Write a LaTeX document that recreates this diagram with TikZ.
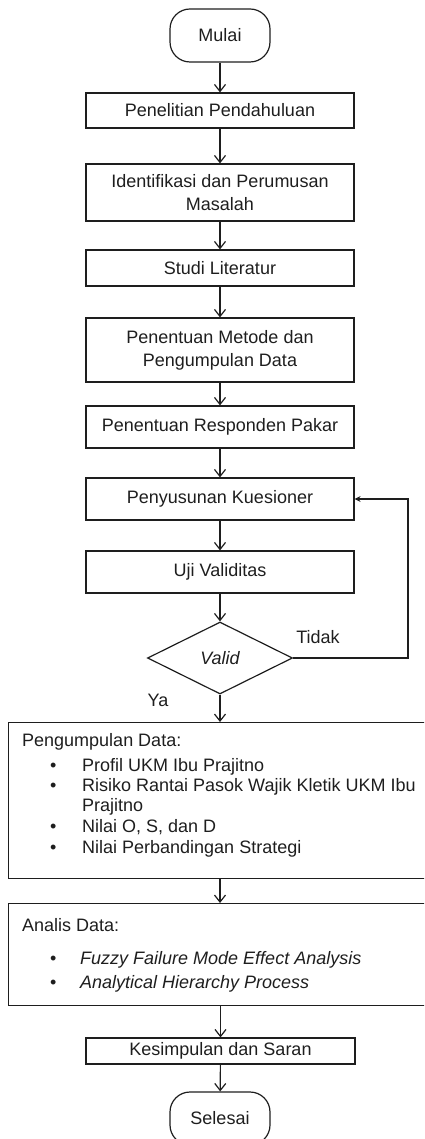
\documentclass[tikz,border=0pt]{standalone}
\usepackage{fontspec}
\setmainfont{Liberation Sans}
\usepackage{tikz}
\usetikzlibrary{arrows.meta,shapes.geometric}
\definecolor{ink}{HTML}{1E1E1E}
\tikzset{box/.style={draw=ink,line width=1.2pt,rectangle,minimum width=268pt,align=center,inner sep=2pt},term/.style={draw=ink,line width=1.2pt,rounded corners=20pt,minimum width=100pt,minimum height=53pt},flow/.style={-{Straight Barb[length=7pt,width=11pt]},draw=ink,line width=1.2pt},back/.style={-{Stealth[length=6pt,width=6pt]},draw=ink,line width=1.2pt},txt/.style={anchor=base west,inner sep=0pt}}

\begin{document}
\begin{tikzpicture}[x=1pt,y=-1pt,font=\fontsize{18}{23}\selectfont,text=ink]
\useasboundingbox (0,0) rectangle (424,1139);\clip (0,0) rectangle (424,1139);
\node[term] (mulai) at (220,35.5) {Mulai};
\node[box,minimum height=35pt] (penelitian) at (220,110.5) {Penelitian Pendahuluan};
\node[box,minimum height=57pt] (identifikasi) at (220,192.5) {Identifikasi dan Perumusan\\Masalah};
\node[box,minimum height=36pt] (studi) at (220,268) {Studi Literatur};
\node[box,minimum height=64pt] (metode) at (220,350) {Penentuan Metode dan\\Pengumpulan Data};
\node[box,minimum height=42pt] (responden) at (220,427) {Penentuan Responden Pakar};
\node[box,minimum height=42pt] (kuesioner) at (220,499) {Penyusunan Kuesioner};
\node[box,minimum height=42pt] (uji) at (220,572) {Uji Validitas};
\node[diamond,draw=ink,line width=1.2pt,minimum width=145pt,minimum height=72pt,inner sep=0pt] (valid) at (220,658) {\itshape Valid};
\node (tidak) at (318,637) {Tidak};\node (ya) at (158,700) {Ya};
% kotak pengumpulan data
\node[box,minimum width=420pt,minimum height=156pt,anchor=north west] (kumpul) at (8,722) {};
\node[txt] (kumpulh) at (22,746.5) {Pengumpulan Data:};
\foreach \y/\t [count=\i] in {771.5/Profil UKM Ibu Prajitno,791.5/Risiko Rantai Pasok Wajik Kletik UKM Ibu,832/{Nilai O, S, dan D},853/Nilai Perbandingan Strategi}{\node[txt] (kb\i) at (50,\y) {\textbullet};\node[txt] (k\i) at (82,\y) {\t};}
\node[txt] (k5) at (82,811) {Prajitno};
% kotak analisis data
\node[box,minimum width=420pt,minimum height=102pt,anchor=north west] (analis) at (8,903) {};
\node[txt] (analish) at (22,931.5) {Analis Data:};
\foreach \y/\t [count=\i] in {964.5/Fuzzy Failure Mode Effect Analysis,988.5/Analytical Hierarchy Process}{\node[txt] (ab\i) at (50,\y) {\textbullet};\node[txt] (a\i) at (80,\y) {\itshape\t};}
\node[box,minimum height=26pt,minimum width=269pt] (simpul) at (220.5,1051) {Kesimpulan dan Saran};
\node[term] (selesai) at (220,1118.5) {Selesai};
% panah
\foreach \a/\b in {mulai/penelitian,penelitian/identifikasi,identifikasi/studi,studi/metode,metode/responden,responden/kuesioner,kuesioner/uji,uji/valid,simpul/selesai}{\draw[flow] (\a) -- (\b);}
\draw[flow] (valid.south) -- (valid.south |- kumpul.north);\draw[flow] (valid |- kumpul.south) -- (valid |- analis.north);\draw[flow] (simpul |- analis.south) -- (simpul);
\coordinate (balik) at (408,499);\draw[back] (valid.east) -| (balik) -- (kuesioner.east);
\end{tikzpicture}
\end{document}
